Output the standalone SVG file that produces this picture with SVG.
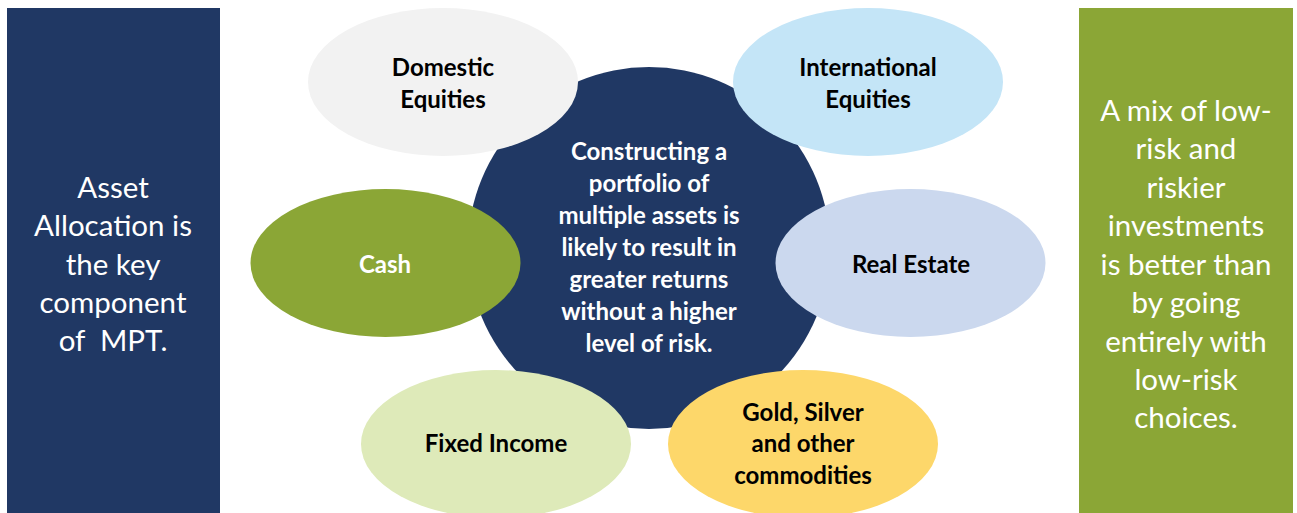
<svg xmlns="http://www.w3.org/2000/svg" width="1297" height="513" viewBox="0 0 1297 513">
<style>
.b{font-family:Lato,"Liberation Sans",sans-serif;font-weight:bold;font-size:24px;text-anchor:middle;fill:#000}
.w{fill:#fff}
.r{font-family:Lato,"Liberation Sans",sans-serif;font-size:29.5px;text-anchor:middle;fill:#fff}
</style>
<rect width="1297" height="513" fill="#fff"/>
<g id="left-panel">
<rect x="7" y="8" width="213" height="505" fill="#203864"/>
<text class="r" x="113"><tspan x="113" y="198">Asset</tspan><tspan x="113" y="236">Allocation is</tspan><tspan x="113" y="275">the key</tspan><tspan x="113" y="313">component</tspan><tspan x="113" y="351">of&#160; MPT.</tspan></text>
</g>
<g id="right-panel">
<rect x="1079" y="8" width="214" height="505" fill="#8BA636"/>
<text class="r" x="1186"><tspan x="1186" y="121">A mix of low-</tspan><tspan x="1186" y="159">risk and</tspan><tspan x="1186" y="198">riskier</tspan><tspan x="1186" y="236">investments</tspan><tspan x="1186" y="275">is better than</tspan><tspan x="1186" y="313">by going</tspan><tspan x="1186" y="352">entirely with</tspan><tspan x="1186" y="390">low-risk</tspan><tspan x="1186" y="428">choices.</tspan></text>
</g>
<g id="center">
<circle cx="649" cy="248" r="181" fill="#203864"/>
<text class="b w" x="649"><tspan x="649" y="160">Constructing a</tspan><tspan x="649" y="192">portfolio of</tspan><tspan x="649" y="224">multiple assets is</tspan><tspan x="649" y="256">likely to result in</tspan><tspan x="649" y="288">greater returns</tspan><tspan x="649" y="320">without a higher</tspan><tspan x="649" y="352">level of risk.</tspan></text>
</g>
<g id="domestic-equities">
<ellipse cx="443" cy="82" rx="135" ry="74" fill="#F2F2F2"/>
<text class="b" x="443"><tspan x="443" y="76">Domestic</tspan><tspan x="443" y="108">Equities</tspan></text>
</g>
<g id="international-equities">
<ellipse cx="868" cy="82" rx="135" ry="74" fill="#C4E5F7"/>
<text class="b" x="868"><tspan x="868" y="76">International</tspan><tspan x="868" y="108">Equities</tspan></text>
</g>
<g id="cash">
<ellipse cx="385.5" cy="263" rx="135" ry="74" fill="#8BA636"/>
<text class="b w" x="385" y="273">Cash</text>
</g>
<g id="real-estate">
<ellipse cx="910.5" cy="263" rx="135" ry="74" fill="#CBD8EE"/>
<text class="b" x="911" y="273">Real Estate</text>
</g>
<g id="fixed-income">
<ellipse cx="496" cy="444" rx="135" ry="74" fill="#DEEAB9"/>
<text class="b" x="496" y="452">Fixed Income</text>
</g>
<g id="gold-silver">
<ellipse cx="803" cy="444" rx="135" ry="74" fill="#FDD76A"/>
<text class="b" x="803"><tspan x="803" y="421">Gold, Silver</tspan><tspan x="803" y="452">and other</tspan><tspan x="803" y="484">commodities</tspan></text>
</g>
<g id="connectors"></g>
</svg>
